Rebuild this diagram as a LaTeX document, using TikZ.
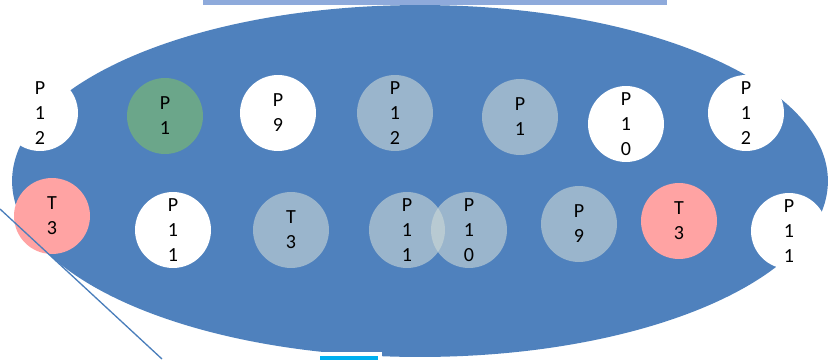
\documentclass[tikz,border=0pt]{standalone}
\usepackage{fontspec}
\setmainfont{Carlito}
\usepackage{xcolor}
\usepackage{tikz}
\usetikzlibrary{shapes,positioning}

\definecolor{poolblue}{HTML}{4F81BD}
\definecolor{barblue}{HTML}{8EAADB}
\definecolor{gateblue}{HTML}{00B0F0}
\definecolor{linkblue}{HTML}{4A7EBB}
\definecolor{greenpid}{HTML}{6BA68A}
\definecolor{redpid}{HTML}{FFA3A3}
\definecolor{greypid}{HTML}{CCD8D6}

\tikzset{
    pid/.style={
        circle,
        minimum size=1.52cm,
        inner sep=0pt,
        align=center,
        font=\fontsize{11.4}{14.2}\selectfont
    },
    whitepid/.style={pid, fill=white},
    greenball/.style={pid, fill=greenpid},
    redball/.style={pid, fill=redpid},
    greyball/.style={pid, fill=greypid, fill opacity=0.6, text opacity=1}
}

\begin{document}
\begin{tikzpicture}[x=0.02cm, y=-0.02cm]

    \useasboundingbox (0,0) rectangle (833,359);

    \fill[barblue] (203,0) rectangle (667,5);

    \fill[poolblue] (420,181) ellipse [x radius=8.16cm, y radius=3.52cm];

    \draw[
        line width=2pt,
        white,
        fill=gateblue
    ] (318,354) rectangle (380,364);

    \node[whitepid] (p12a) at (40,113) {P\\1\\2};
    \node[greenball] (p1a) at (165,116) {P\\1};
    \node[whitepid] (p9a) at (278,113) {P\\9};
    \node[greyball] (p12b) at (395,113) {P\\1\\2};
    \node[greyball] (p1b) at (520,117) {P\\1};
    \node[whitepid] (p10a) at (626,124) {P\\1\\0};
    \node[whitepid] (p12c) at (746,113) {P\\1\\2};

    \node[redball] (t3a) at (52,216) {T\\3};
    \node[whitepid] (p11a) at (173,230) {P\\1\\1};
    \node[greyball] (t3b) at (291,230) {T\\3};
    \node[greyball] (p11b) at (407,230) {P\\1\\1};
    \node[greyball] (p10b) at (469,230) {P\\1\\0};
    \node[greyball] (p9b) at (579,224) {P\\9};
    \node[redball] (t3c) at (679,221) {T\\3};
    \node[whitepid] (p11c) at (789,231) {P\\1\\1};

    \coordinate (linkstart) at (0,209);
    \coordinate (linkend) at (162,359);
    \draw[linkblue, line width=0.75pt] (linkstart) -- (linkend);

\end{tikzpicture}
\end{document}
